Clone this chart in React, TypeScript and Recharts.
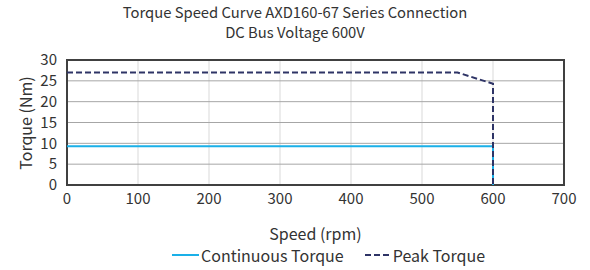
import React from "react";
import {
  LineChart,
  Line,
  XAxis,
  YAxis,
  CartesianGrid,
  ReferenceArea,
} from "recharts";

const continuousSpeed = [0, 600, 600];
const continuousTorque = [9.3, 9.3, 0];
const peakSpeed = [0, 550, 600, 600];
const peakTorque = [27, 27, 24.3, 0];
const xTicks = [0, 100, 200, 300, 400, 500, 600, 700];
const yTicks = [0, 5, 10, 15, 20, 25, 30];

const continuousData = continuousSpeed.map((speed, i) => ({
  speed,
  torque: continuousTorque[i],
}));
const peakData = peakSpeed.map((speed, i) => ({
  speed,
  torque: peakTorque[i],
}));

const FONT = '"Noto Sans CJK JP", "Noto Sans", sans-serif';
const TEXT = "#333333";

const App = () => {
  return (
    <div
      style={{
        position: "absolute",
        left: 0,
        top: 0,
        width: 590,
        height: 270,
        background: "#ffffff",
        fontFamily: FONT,
        color: TEXT,
      }}
    >
      <div
        style={{
          position: "absolute",
          left: 0,
          top: 2,
          width: 590,
          textAlign: "center",
          fontSize: 14.8,
          lineHeight: "20px",
        }}
      >
        Torque Speed Curve AXD160-67 Series Connection
        <br />
        DC Bus Voltage 600V
      </div>
      <LineChart
        width={590}
        height={270}
        margin={{ top: 60, right: 26, bottom: 55, left: 37 }}
        style={{ position: "absolute", left: 0, top: 0 }}
      >
        <CartesianGrid stroke="#d9d9d9" horizontal={false} />
        <CartesianGrid stroke="#a6a6a6" vertical={false} />
        <XAxis
          type="number"
          dataKey="speed"
          domain={[0, 700]}
          ticks={xTicks}
          interval={0}
          axisLine={false}
          tickLine={false}
          height={30}
          tick={{ fill: TEXT, fontSize: 15, fontFamily: FONT }}
          tickMargin={2}
        />
        <YAxis
          type="number"
          dataKey="torque"
          domain={[0, 30]}
          ticks={yTicks}
          interval={0}
          axisLine={false}
          tickLine={false}
          width={30}
          tick={{ fill: TEXT, fontSize: 15, fontFamily: FONT }}
          tickMargin={4}
        />
        <ReferenceArea
          x1={0}
          x2={700}
          y1={0}
          y2={30}
          fill="none"
          stroke="#404040"
          strokeWidth={2}
        />
        <Line
          data={continuousData}
          dataKey="torque"
          type="linear"
          stroke="#1ab0e8"
          strokeWidth={2}
          dot={false}
          isAnimationActive={false}
        />
        <Line
          data={peakData}
          dataKey="torque"
          type="linear"
          stroke="#2e3466"
          strokeWidth={2}
          strokeDasharray="6 3"
          dot={false}
          isAnimationActive={false}
        />
      </LineChart>
      <div
        style={{
          position: "absolute",
          left: 0,
          top: 221,
          width: 590,
          paddingLeft: 41,
          boxSizing: "border-box",
          textAlign: "center",
          fontSize: 16,
        }}
      >
        Speed (rpm)
      </div>
      <div
        style={{
          position: "absolute",
          left: 25,
          top: 123,
          transform: "translate(-50%, -50%) rotate(-90deg)",
          whiteSpace: "nowrap",
          fontSize: 16,
        }}
      >
        Torque (Nm)
      </div>
      <div
        style={{
          position: "absolute",
          left: 172,
          top: 243,
          display: "flex",
          alignItems: "center",
          fontSize: 16,
          whiteSpace: "nowrap",
        }}
      >
        <svg width={27} height={4}>
          <line x1={0} y1={2} x2={27} y2={2} stroke="#1ab0e8" strokeWidth={2} />
        </svg>
        <span style={{ marginLeft: 2 }}>Continuous Torque</span>
        <svg width={25} height={4} style={{ marginLeft: 21 }}>
          <line
            x1={0}
            y1={2}
            x2={25}
            y2={2}
            stroke="#2e3466"
            strokeWidth={2}
            strokeDasharray="6 3"
          />
        </svg>
        <span style={{ marginLeft: 3 }}>Peak Torque</span>
      </div>
    </div>
  );
};

export default App;
